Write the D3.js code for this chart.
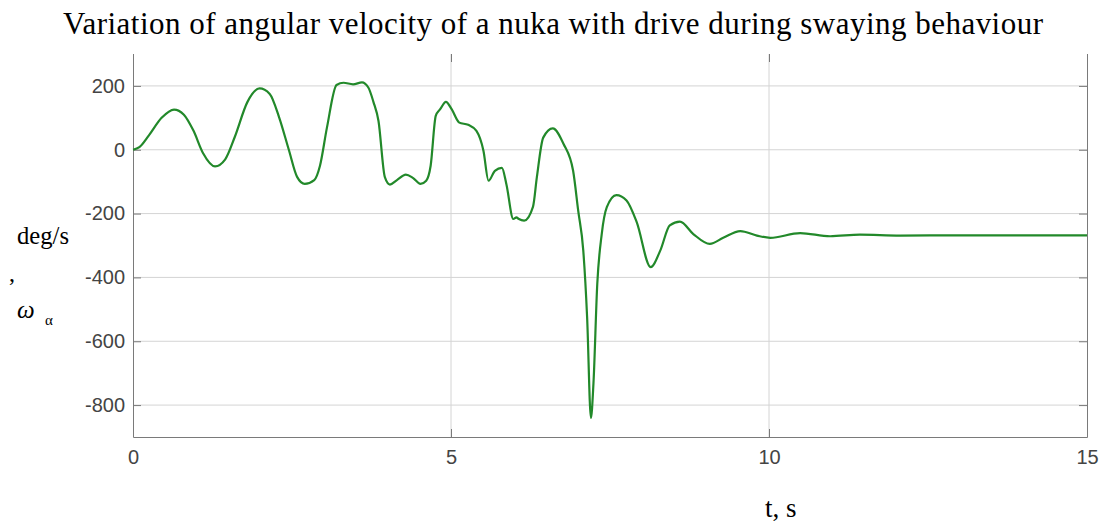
<!DOCTYPE html>
<html>
<head>
<meta charset="utf-8">
<script src="https://cdn.jsdelivr.net/npm/d3@7"></script>
<style>
  body { margin: 0; background: #fff; }
  .tick text { font-family: "Liberation Sans", Arial, sans-serif; }
</style>
</head>
<body>
<div class="canvas"></div>
<script>
// Data
const timeValues = [0, 0.1, 0.25, 0.45, 0.645, 0.8, 0.95, 1.1, 1.29, 1.45, 1.6, 1.8, 1.99, 2.15, 2.3, 2.45, 2.58, 2.7, 2.85, 2.94,
  3.05, 3.2, 3.31, 3.46, 3.6, 3.7, 3.78, 3.86, 3.96, 4.04, 4.15, 4.29, 4.4, 4.52, 4.61, 4.68, 4.76, 4.83, 4.92, 5.01,
  5.13, 5.27, 5.4, 5.51, 5.59, 5.69, 5.8, 5.87, 5.98, 6.03, 6.06, 6.15, 6.29, 6.35, 6.45, 6.6, 6.77, 6.92, 7.0, 7.08,
  7.14, 7.2, 7.24, 7.3, 7.37, 7.45, 7.6, 7.76, 7.92, 8.14, 8.29, 8.44, 8.6, 8.81, 9.07, 9.28, 9.55, 9.81, 10.02, 10.49,
  10.96, 11.43, 12.06, 13, 14, 15]
const omegaValues = [0, 8, 45, 100, 126, 110, 60, -10, -52, -30, 40, 150, 192, 175, 100, 0, -85, -107, -95, -50,
  70, 203, 210, 205, 211, 195, 150, 90, -86, -109, -95, -78, -88, -107, -97, -50, 106, 127, 150, 127,
  85, 78, 59, -3, -97, -66, -57, -107, -217, -212, -216, -222, -178, -86, 38, 67, 18, -66, -191, -316,
  -524, -840, -732, -420, -264, -180, -142, -159, -227, -368, -316, -237, -225, -264, -295, -276, -255, -269, -276, -261,
  -271, -266, -269, -268, -268, -268]
const xTicks = [0, 5, 10, 15]
const yTicks = [-800, -600, -400, -200, 0, 200]

const width = 1107
const height = 524
const margin = { top: 54, right: 20, bottom: 87, left: 133 }
const innerW = 1087 - margin.left
const innerH = 437 - margin.top

const svg = d3.select('.canvas')
  .append('svg')
    .attr('width', width)
    .attr('height', height)

const x = d3.scaleLinear().domain([0, 15]).range([0, innerW])
const y = d3.scaleLinear().domain([-900, 300]).range([innerH, 0])

const graph = svg.append('g')
  .attr('transform', `translate(${margin.left}, ${margin.top})`)

// Grid
graph.append('g')
  .selectAll('line')
  .data(yTicks)
  .join('line')
    .attr('x1', 0).attr('x2', innerW)
    .attr('y1', d => y(d)).attr('y2', d => y(d))
    .attr('stroke', '#d4d4d4')
graph.append('g')
  .selectAll('line')
  .data(xTicks.slice(1, -1))
  .join('line')
    .attr('x1', d => x(d)).attr('x2', d => x(d))
    .attr('y1', 0).attr('y2', innerH)
    .attr('stroke', '#d4d4d4')

// Axes
const styleAxis = g => {
  g.select('.domain').attr('stroke', '#7a7a7a')
  g.selectAll('.tick line').attr('stroke', '#7a7a7a')
  g.selectAll('.tick text').attr('fill', '#444').attr('font-size', 20)
}
// plain hyphen minus like the original
const plain = d => String(d)

graph.append('g')
  .attr('transform', `translate(0, ${innerH})`)
  .call(d3.axisBottom(x).tickValues(xTicks).tickSizeInner(-8).tickSizeOuter(0).tickPadding(13).tickFormat(plain))
  .call(styleAxis)

graph.append('g')
  .call(d3.axisLeft(y).tickValues(yTicks).tickSizeInner(-8).tickSizeOuter(0).tickPadding(8).tickFormat(plain))
  .call(styleAxis)

graph.append('g')
  .attr('transform', `translate(${innerW}, 0)`)
  .call(d3.axisRight(y).tickValues(yTicks).tickSizeInner(-8).tickSizeOuter(0).tickFormat(''))
  .call(styleAxis)

// Top ticks only, no top border
const topAxis = graph.append('g')
  .call(d3.axisTop(x).tickValues(xTicks).tickSizeInner(-8).tickSizeOuter(0).tickFormat(''))
  .call(styleAxis)
topAxis.select('.domain').remove()

// Curve
const line = d3.line()
  .x(d => x(d[0]))
  .y(d => y(d[1]))
  .curve(d3.curveMonotoneX)

graph.append('path')
  .datum(timeValues.map((t, i) => [t, omegaValues[i]]))
  .attr('fill', 'none')
  .attr('stroke', '#22892a')
  .attr('stroke-width', 2.2)
  .attr('stroke-linejoin', 'round')
  .attr('d', line)

// Texts
const serif = '"Liberation Serif", "Times New Roman", serif'

svg.append('text')
  .attr('x', 553).attr('y', 34)
  .attr('text-anchor', 'middle')
  .attr('font-family', serif)
  .attr('font-size', 31)
  .attr('textLength', 980)
  .attr('lengthAdjust', 'spacing')
  .text('Variation of angular velocity of a nuka with drive during swaying behaviour')

svg.append('text')
  .attr('x', 17).attr('y', 244)
  .attr('font-family', serif)
  .attr('font-size', 26)
  .attr('textLength', 52)
  .attr('lengthAdjust', 'spacingAndGlyphs')
  .text('deg/s')

svg.append('text')
  .attr('x', 9).attr('y', 281)
  .attr('font-family', serif)
  .attr('font-size', 24)
  .text(',')

svg.append('text')
  .attr('x', 17).attr('y', 318)
  .attr('font-family', serif)
  .attr('font-size', 25)
  .attr('font-style', 'italic')
  .text('ω')

svg.append('text')
  .attr('x', 45).attr('y', 325)
  .attr('font-family', serif)
  .attr('font-size', 15)
  .text('α')

svg.append('text')
  .attr('x', 765).attr('y', 517)
  .attr('font-family', serif)
  .attr('font-size', 27)
  .text('t, s')
</script>
</body>
</html>
